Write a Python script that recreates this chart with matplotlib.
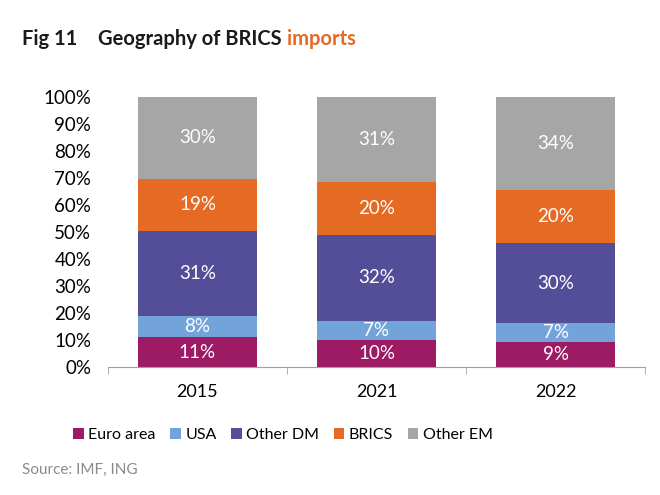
import matplotlib
matplotlib.use("Agg")
import matplotlib.pyplot as plt
from matplotlib.patches import Patch
import numpy as np

years = ["2015", "2021", "2022"]
series = ["Euro area", "USA", "Other DM", "BRICS", "Other EM"]
euro_area = [11.1, 10.1, 9.3]
usa = [8.0, 7.2, 7.0]
other_dm = [31.4, 31.6, 29.6]
brics = [19.4, 19.7, 19.8]
other_em = [30.1, 31.4, 34.3]
colors = ["#9C1B64", "#72A4DA", "#544E99", "#E56A24", "#A6A6A6"]

plt.rcParams['font.family'] = ['Lato', 'DejaVu Sans']

fig = plt.figure(figsize=(6.6, 4.95), dpi=100)
ax = fig.add_axes([108/660, 1-367.3/495, (645-108)/660, 270/495])

x = np.arange(len(years))
bottom = np.zeros(len(years))
for name, vals, c in zip(series, [euro_area, usa, other_dm, brics, other_em], colors):
    vals = np.array(vals)
    ax.bar(x, vals, 0.665, bottom=bottom, color=c, label=name)
    for xi, b, v in zip(x, bottom, vals):
        ax.text(xi, b + v/2, f"{v:.0f}%", ha='center', va='center', color='white', fontsize=13.5)
    bottom += vals

ax.set_xlim(-0.5, 2.5)
ax.set_ylim(0, 100)
ax.set_yticks(np.arange(0, 101, 10))
ax.set_yticklabels([f"{v}%" for v in range(0, 101, 10)], fontsize=13.5)
ax.set_xticks(x)
ax.set_xticklabels(years, fontsize=13)
ax.set_xticks([-0.5, 0.5, 1.5, 2.5], minor=True)
ax.tick_params(axis='x', which='major', length=0, pad=12)
ax.tick_params(axis='x', which='minor', length=5, color='#A0A0A0', direction='out')
ax.tick_params(axis='y', length=0, pad=12)
for s in ['top', 'right', 'left']:
    ax.spines[s].set_visible(False)
ax.spines['bottom'].set_color('#A0A0A0')

ty = 1-39/495
fig.text(22/660, ty, "Fig 11", fontsize=14.5, fontweight='bold', va='center', ha='left', color='#1a1a1a')
t2 = fig.text(98/660, ty, "Geography of BRICS", fontsize=14.5, fontweight='bold', va='center', ha='left', color='#1a1a1a')
fig.canvas.draw()
bb = t2.get_window_extent(renderer=fig.canvas.get_renderer())
fig.text(bb.x1/660 + 5/660, ty, "imports", fontsize=14.5, fontweight='bold', va='center', ha='left', color='#E56A24')

handles = [Patch(facecolor=c, edgecolor='none') for c in colors]
fig.legend(handles, series, loc='center', bbox_to_anchor=(283/660, 1-435/495), ncol=5,
           frameon=False, fontsize=11.5, handlelength=0.65, handleheight=0.65,
           handletextpad=0.3, columnspacing=0.9)

fig.text(22/660, 1-470/495, "Source: IMF, ING", fontsize=11, color='#8a8a8a', va='center', ha='left')

fig.savefig("out.png", dpi=100)
